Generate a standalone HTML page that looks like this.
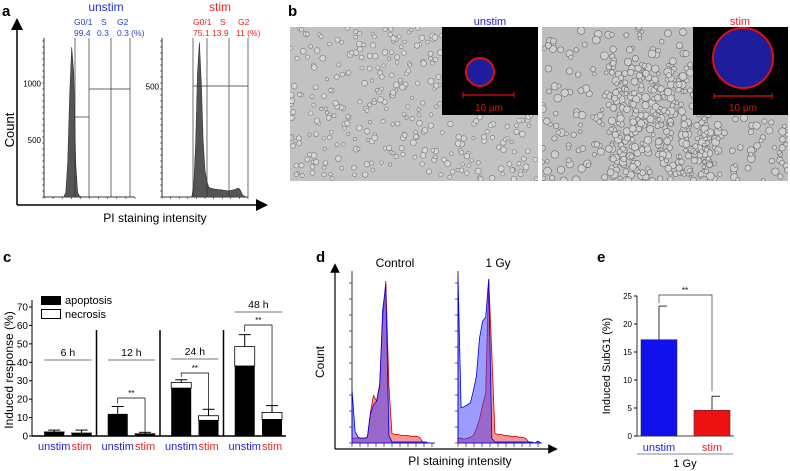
<!DOCTYPE html>
<html><head><meta charset="utf-8"><style>
body{margin:0;background:#fff;width:790px;height:471px;overflow:hidden}
svg{display:block;font-family:"Liberation Sans",Arial,sans-serif}
</style></head><body>
<svg id="fig" width="790" height="471" viewBox="0 0 790 471">
<defs>
<marker id="arr" markerWidth="8" markerHeight="8" refX="4" refY="4" orient="auto"><path d="M0,0 L8,4 L0,8 z" fill="#000"/></marker>
<clipPath id="c1"><rect x="290" y="27" width="248" height="154"/></clipPath>
<clipPath id="c2"><rect x="542" y="27" width="246" height="154"/></clipPath>
</defs>
<text x="2" y="16" font-size="15" font-weight="bold">a</text>
<text x="288" y="16" font-size="15" font-weight="bold">b</text>
<text x="3" y="262" font-size="15" font-weight="bold">c</text>
<text x="316" y="262" font-size="15" font-weight="bold">d</text>
<text x="597" y="262" font-size="15" font-weight="bold">e</text>

<g id="pa">
<line x1="17" y1="205" x2="17" y2="24" stroke="#000" stroke-width="1.5" marker-end="url(#arr)"/>
<line x1="17" y1="205" x2="262" y2="205" stroke="#000" stroke-width="1.5" marker-end="url(#arr)"/>
<text x="14" y="130" font-size="13" transform="rotate(-90 14 130)" text-anchor="middle">Count</text>
<text x="155" y="222" font-size="12" text-anchor="middle">PI staining intensity</text>
<text x="106" y="11" font-size="12" fill="#2233cc" text-anchor="middle">unstim</text>
<text x="220" y="11" font-size="12" fill="#e22" text-anchor="middle">stim</text>
<g font-size="8.5" fill="#2244cc"><text x="74" y="25">G0/1</text><text x="101" y="25">S</text><text x="117" y="25">G2</text>
<text x="74" y="36">99.4</text><text x="97" y="36">0.3</text><text x="117" y="36">0.3 (%)</text></g>
<g font-size="8.5" fill="#e22"><text x="193" y="25">G0/1</text><text x="220" y="25">S</text><text x="238" y="25">G2</text>
<text x="193" y="36">75.1</text><text x="212" y="36">13.9</text><text x="236" y="36">11 (%)</text></g>
</g>

<g id="pb">
<rect x="290" y="27" width="248" height="154" fill="#c2c2c2"/>
<rect x="542" y="27" width="246" height="154" fill="#bebebe"/>
<g id="cells1" clip-path="url(#c1)"></g><g id="cells2" clip-path="url(#c2)"></g>
<rect x="442" y="27" width="96" height="88" fill="#000"/>
<circle cx="480" cy="72" r="14" fill="#1e1e9c" stroke="#e01010" stroke-width="2"/>
<line x1="463" y1="95" x2="514" y2="95" stroke="#e01010" stroke-width="1.2"/>
<line x1="463" y1="92" x2="463" y2="98" stroke="#e01010"/><line x1="514" y1="92" x2="514" y2="98" stroke="#e01010"/>
<text x="489" y="111" font-size="10" fill="#e01010" text-anchor="middle">10 µm</text>
<rect x="693" y="27" width="95" height="88" fill="#000"/>
<circle cx="743" cy="58" r="30" fill="#1e1e9c" stroke="#e01010" stroke-width="2"/>
<line x1="714" y1="96" x2="772" y2="96" stroke="#e01010" stroke-width="1.2"/>
<line x1="714" y1="93" x2="714" y2="99" stroke="#e01010"/><line x1="772" y1="93" x2="772" y2="99" stroke="#e01010"/>
<text x="743" y="111" font-size="10" fill="#e01010" text-anchor="middle">10 µm</text>
<text x="490" y="25" font-size="11" fill="#2222cc" text-anchor="middle">unstim</text>
<text x="740" y="25" font-size="11" fill="#e22" text-anchor="middle">stim</text>
</g>

<g id="pc">
<text x="13" y="370" font-size="12" transform="rotate(-90 13 370)" text-anchor="middle">Induced response (%)</text>
<rect x="41" y="296" width="20" height="9" fill="#000"/>
<text x="65" y="304" font-size="11">apoptosis</text>
<rect x="41.5" y="309.5" width="19" height="9" fill="#fff" stroke="#000"/>
<text x="65" y="318" font-size="11">necrosis</text>
</g>

<g id="pd">
<line x1="335" y1="449" x2="335" y2="268" stroke="#000" stroke-width="1.2" marker-end="url(#arr)"/>
<line x1="335" y1="449" x2="553" y2="449" stroke="#000" stroke-width="1.2" marker-end="url(#arr)"/>
<text x="324" y="362" font-size="12" transform="rotate(-90 324 362)" text-anchor="middle">Count</text>
<text x="460" y="465" font-size="12" text-anchor="middle">PI staining intensity</text>
<text x="395" y="267" font-size="12" text-anchor="middle">Control</text>
<text x="498" y="267" font-size="12" text-anchor="middle">1 Gy</text>
</g>

<g id="pe">
<text x="610" y="366" font-size="11" transform="rotate(-90 610 366)" text-anchor="middle">Induced SubG1 (%)</text>
<line x1="637" y1="454" x2="733" y2="454" stroke="#888"/>
<text x="685" y="467" font-size="11" text-anchor="middle">1 Gy</text>
</g>
</svg>
<script>
const NS="http://www.w3.org/2000/svg";
function mk(parent,tag,attrs){const e=document.createElementNS(NS,tag);for(const k in attrs)e.setAttribute(k,attrs[k]);parent.appendChild(e);return e;}

/* ---------- Panel A data ---------- */
const aUnstimHist=[0,0,0,0,0,0,0,0,0,0,2,40,300,900,1320,1100,300,40,6,2,1,1,0,0,0,0,0,0,0,0,0,0,0,0,0,0,0,0,0,0,0,0,0,0,0,0,0];
const aStimHist=[0,0,0,0,0,0,0,0,0,0,0,0,0,0,0,0,2,60,250,560,700,520,260,120,70,45,40,38,36,35,34,33,32,30,30,28,28,30,32,34,38,40,30,10,3,1,0];
const aLeftTicks=[500,1000];
const aRightTicks=[500];
(function(){
 const g=document.getElementById('pa');
 function hist(x0,x1,yb,yt,vals,ymax,tickVals,gates,hlines,nm){
  mk(g,'line',{x1:x0,y1:yb,x2:x0,y2:yt,stroke:'#000','stroke-width':0.8});
  mk(g,'line',{x1:x0,y1:yb,x2:x1,y2:yb,stroke:'#000','stroke-width':0.8});
  const ys=v=>yb-(v/ymax)*(yb-yt);
  const xs=i=>x0+(i/(vals.length-1))*(x1-x0);
  for(let y=yb;y>=yt;y-=6)mk(g,'line',{x1:x0-2,y1:y,x2:x0,y2:y,stroke:'#000','stroke-width':0.5});
  for(let i=0;i<=10;i++){const x=x0+i*(x1-x0)/10;mk(g,'line',{x1:x,y1:yb,x2:x,y2:yb+2,stroke:'#000','stroke-width':0.5});}
  tickVals.forEach(v=>{const t=mk(g,'text',{x:x0-3,y:ys(v)+3,'font-size':8,'text-anchor':'end'});t.textContent=v;});
  let d='M'+x0+','+yb;vals.forEach((v,i)=>{d+=' L'+xs(i).toFixed(1)+','+ys(v).toFixed(1);});d+=' L'+x1+','+yb+' Z';
  const p=mk(g,'path',{d:d,fill:'#555',stroke:'#333','stroke-width':0.6});
  
  
  gates.forEach(x=>mk(g,'line',{x1:x,y1:yb,x2:x,y2:yt,stroke:'#333','stroke-width':0.7}));
  hlines.forEach(h=>mk(g,'line',{x1:h[0],y1:h[2],x2:h[1],y2:h[2],stroke:'#333','stroke-width':0.7}));
 }
 hist(44,135,197,38,aUnstimHist,1400,aLeftTicks,[75,89,111,130],[[75,89,117],[89,130,89]],'unstim-histogram');
 hist(162,248,197,38,aStimHist,720,aRightTicks,[193,207,229,248],[[193,248,86]],'stim-histogram');
})();

/* ---------- Panel B cells (texture) ---------- */
(function(){
 let s=12345;const r=()=>{s=(s*16807)%2147483647;return s/2147483647;};
 const g1=document.getElementById('cells1'),g2=document.getElementById('cells2');
 for(let i=0;i<380;i++){mk(g1,'circle',{cx:290+r()*248,cy:27+r()*154,r:1.6+r()*1.4,fill:'#d6d6d6',stroke:'#7a7a7a','stroke-width':0.6});}
 for(let i=0;i<600;i++){let x=542+r()*246,y=27+r()*154;if(r()<0.5){x=610+r()*110;y=60+r()*121;}
  mk(g2,'circle',{cx:x,cy:y,r:1.8+r()*2.2,fill:'#cfcfcf',stroke:'#6a6a6a','stroke-width':0.6});}
})();

/* ---------- Panel C data ---------- */
const cGroups=["6 h","12 h","24 h","48 h"];
const cConds=["unstim","stim"];
const cApoptosis=[[2,1.5],[12,1],[26,8.5],[38,9]];
const cTotal=[[2.2,1.6],[12,1.2],[29,11],[48.5,12.8]];
const cErrTop=[[3.2,3.2],[16,2],[30.5,14.5],[55,16.5]];
const cTicks=[0,10,20,30,40,50,60,70];
(function(){
 const g=document.getElementById('pc');
 const x0=32,x1=286,yb=436,yt=307;
 const ys=v=>yb-v/70*(yb-yt);
 const gw=(x1-x0)/4;
 const xc=(gi,ci)=>x0+gi*gw+gw*(ci===0?0.35:0.78);
 mk(g,'line',{x1:x0,y1:yb,x2:x0,y2:300,stroke:'#000','stroke-width':1});
 mk(g,'line',{x1:x0,y1:yb,x2:x1,y2:yb,stroke:'#000','stroke-width':1.5});
 cTicks.forEach(v=>{mk(g,'line',{x1:x0-3,y1:ys(v),x2:x0,y2:ys(v),stroke:'#000'});
  const t=mk(g,'text',{x:x0-4,y:ys(v)+3.5,'font-size':10,'text-anchor':'end'});t.textContent=v;});
 for(let gi=1;gi<4;gi++){const x=x0+gi*gw+1;mk(g,'line',{x1:x,y1:yb,x2:x,y2:330,stroke:'#000','stroke-width':1.5});}
 const bw=20;
 cGroups.forEach((gn,gi)=>{
  cConds.forEach((cn,ci)=>{
   const x=xc(gi,ci);
   mk(g,'line',{x1:x,y1:ys(cTotal[gi][ci]),x2:x,y2:ys(cErrTop[gi][ci]),stroke:'#000'});
   mk(g,'line',{x1:x-6,y1:ys(cErrTop[gi][ci]),x2:x+6,y2:ys(cErrTop[gi][ci]),stroke:'#000'});
   const n=mk(g,'rect',{x:x-bw/2,y:ys(cTotal[gi][ci]),width:bw,height:ys(cApoptosis[gi][ci])-ys(cTotal[gi][ci]),fill:'#fff',stroke:'#000','stroke-width':0.8});
   
   
   const a=mk(g,'rect',{x:x-bw/2,y:ys(cApoptosis[gi][ci]),width:bw,height:yb-ys(cApoptosis[gi][ci]),fill:'#000'});
   
   
   const t=mk(g,'text',{x:x,y:450,'font-size':11,'text-anchor':'middle',fill:ci===0?'#2222dd':'#e22'});t.textContent=cn;
  });
  const xa=xc(gi,0),xb=xc(gi,1);
  const lyy=gi===0?360:gi===1?360:gi===2?359:312;
  mk(g,'line',{x1:xa-10,y1:lyy,x2:xb+10,y2:lyy,stroke:'#777'});
  const t=mk(g,'text',{x:(xa+xb)/2,y:lyy-4,'font-size':10.5,'text-anchor':'middle'});t.textContent=gn;
  if(gi>0){const by=gi===1?398:gi===2?373:325;
   mk(g,'path',{d:`M${xa},${ys(cErrTop[gi][0])-3} V${by} H${xb} V${ys(cTotal[gi][1])-2}`,fill:'none',stroke:'#000','stroke-width':0.7});
   const s=mk(g,'text',{x:(xa+xb)/2,y:by-2,'font-size':8,'text-anchor':'middle'});s.textContent='**';}
 });
})();

/* ---------- Panel D data ---------- */
const dCtrlBlue=[56,12,6,5,5,6,30,40,44,60,140,166,8,1,1,1,1,1,1,1,1,1,1,1,1,0,0,0];
const dCtrlRed=[5,5,5,5,5,6,32,50,44,62,130,170,60,10,9,9,8,8,8,7,7,7,6,1,0,0,0,0];
const dGyBlue=[176,37,38,40,42,55,70,110,128,132,172,5,1,1,1,1,1,1,1,1,1,1,1,1,1,0,2,0];
const dGyRed=[5,5,4,5,6,8,15,25,40,52,172,95,10,9,9,8,8,7,7,7,6,6,5,1,0,0,0,0];
(function(){
 const g=document.getElementById('pd');
 function hist(x0,x1,blue,red,nm){
  const yb=443,yt=281,ym=170;
  const ys=v=>yb-v/ym*(yb-yt);
  const xs=i=>x0+i*(x1-x0)/(blue.length-1);
  mk(g,'line',{x1:x0,y1:yb,x2:x0,y2:yt-10,stroke:'#000','stroke-width':0.8});
  for(let y=yb;y>=yt-8;y-=16)mk(g,'line',{x1:x0-3,y1:y,x2:x0,y2:y,stroke:'#000','stroke-width':0.6});
  for(let i=0;i<=10;i++){const x=x0+i*8;mk(g,'line',{x1:x,y1:yb,x2:x,y2:yb+4,stroke:'#000','stroke-width':0.6});}
  [[red,'rgba(240,60,60,0.55)','#c00'],[blue,'rgba(60,60,255,0.5)','#00d']].forEach((s,k)=>{
   let d='M'+x0+','+yb;s[0].forEach((v,i)=>{d+=' L'+xs(i).toFixed(1)+','+ys(v).toFixed(1);});d+=' L'+x1+','+yb+' Z';
   const p=mk(g,'path',{d:d,fill:s[1],stroke:s[2],'stroke-width':0.8});
   
   
  });
 }
 hist(352,435,dCtrlBlue,dCtrlRed,'control-histogram');
 hist(458,541,dGyBlue,dGyRed,'1gy-histogram');
})();

/* ---------- Panel E data ---------- */
const eConds=["unstim","stim"];
const eValues=[17.2,4.6];
const eErrors=[6.0,2.5];
const eTicks=[0,5,10,15,20,25];
(function(){
 const g=document.getElementById('pe');
 const x0=637,yb=436,yt=296;
 const ys=v=>yb-v/25*(yb-yt);
 mk(g,'line',{x1:x0,y1:yb,x2:x0,y2:yt,stroke:'#000','stroke-width':0.8});
 mk(g,'line',{x1:x0,y1:yb,x2:734,y2:yb,stroke:'#000','stroke-width':0.8});
 eTicks.forEach(v=>{mk(g,'line',{x1:x0-3,y1:ys(v),x2:x0,y2:ys(v),stroke:'#000'});
  const t=mk(g,'text',{x:x0-5,y:ys(v)+3,'font-size':8,'text-anchor':'end'});t.textContent=v;});
 const cx=[659,712],cols=['#1111ee','#ee1111'];
 eConds.forEach((c,i)=>{
  const e=ys(eValues[i]+eErrors[i]);
  mk(g,'line',{x1:cx[i],y1:ys(eValues[i]),x2:cx[i],y2:e,stroke:'#000','stroke-width':0.8});
  mk(g,'line',{x1:cx[i],y1:e,x2:cx[i]+8,y2:e,stroke:'#000','stroke-width':0.8});
  const r=mk(g,'rect',{x:cx[i]-18,y:ys(eValues[i]),width:36,height:yb-ys(eValues[i]),fill:cols[i],stroke:'#333','stroke-width':0.6});
  
  
  const t=mk(g,'text',{x:cx[i],y:451,'font-size':11,'text-anchor':'middle',fill:i?'#e22':'#2222dd'});t.textContent=c;
 });
 mk(g,'path',{d:`M${cx[0]},${ys(eValues[0]+eErrors[0])-3} V295 H${cx[1]} V${ys(eValues[1]+eErrors[1])-5}`,fill:'none',stroke:'#333','stroke-width':0.7});
 const s=mk(g,'text',{x:685,y:293,'font-size':8,'text-anchor':'middle'});s.textContent='**';
})();
</script>
</body></html>
